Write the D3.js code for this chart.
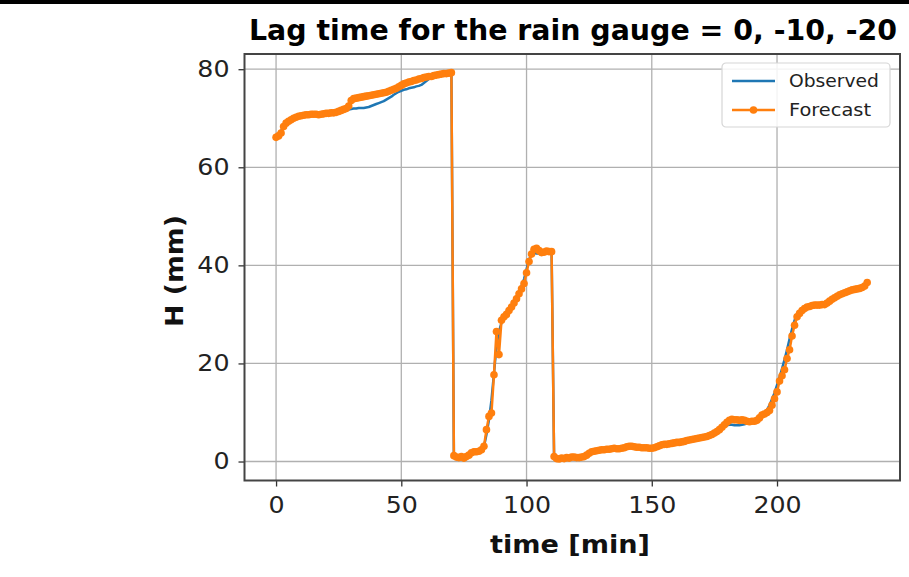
<!DOCTYPE html>
<html>
<head>
<meta charset="utf-8">
<script src="https://cdn.jsdelivr.net/npm/d3@7"></script>
<style>
  html, body { margin: 0; padding: 0; background: #fff; }
  svg { display: block; }
  text { font-family: "DejaVu Sans", sans-serif; }
</style>
</head>
<body>
<svg id="chart" width="909" height="577"></svg>
<script>
// Water level H (mm), sampled every minute from t = 0 to t = 236 min
const observed = [
  66.0, 66.5, 67.4, 68.4, 69.0, 69.4, 69.7, 69.9, 70.1, 70.3,
  70.4, 70.5, 70.6, 70.6, 70.7, 70.7, 70.7, 70.7, 70.7, 70.8,
  70.9, 70.9, 71.0, 71.0, 71.1, 71.2, 71.4, 71.5, 71.7, 71.8,
  71.9, 72.0, 72.0, 72.1, 72.1, 72.1, 72.2, 72.3, 72.5, 72.7,
  72.9, 73.1, 73.3, 73.5, 73.8, 74.1, 74.4, 74.8, 75.1, 75.4,
  75.6, 75.8, 75.9, 76.1, 76.2, 76.3, 76.5, 76.6, 76.8, 77.2,
  77.6, 78.0, 78.3, 78.5, 78.7, 78.8, 78.9, 79.0, 79.0, 79.1,
  79.2, 1.0, 0.9, 0.8, 0.9, 0.8, 1.0, 1.3, 1.7, 1.9,
  2.0, 2.1, 2.4, 3.0, 5.5, 8.5, 12.5, 18.0, 23.5, 26.5,
  28.3, 29.3, 30.2, 31.0, 31.8, 32.7, 33.6, 34.7, 35.8, 37.2,
  39.2, 41.2, 42.3, 42.5, 42.4, 42.4, 42.5, 42.6, 42.7, 42.8,
  42.8, 0.9, 0.6, 0.6, 0.7, 0.7, 0.8, 0.8, 0.8, 0.9,
  0.9, 0.9, 1.0, 1.1, 1.4, 1.7, 1.9, 2.1, 2.2, 2.3,
  2.4, 2.4, 2.5, 2.5, 2.6, 2.6, 2.6, 2.7, 2.7, 2.8,
  2.9, 3.0, 3.0, 3.0, 2.9, 2.9, 2.8, 2.8, 2.8, 2.8,
  2.8, 2.9, 3.0, 3.2, 3.3, 3.4, 3.5, 3.6, 3.7, 3.8,
  3.9, 3.9, 4.0, 4.1, 4.2, 4.4, 4.5, 4.6, 4.7, 4.8,
  4.9, 5.0, 5.1, 5.3, 5.5, 5.8, 6.1, 6.5, 6.9, 7.2,
  7.4, 7.5, 7.5, 7.4, 7.4, 7.4, 7.5, 7.6, 7.8, 8.0,
  8.1, 8.2, 8.4, 8.8, 9.3, 9.8, 10.5, 11.5, 12.7, 14.0,
  15.6, 17.2, 18.9, 20.8, 22.8, 25.0, 27.0, 28.8, 29.8, 30.4,
  30.9, 31.2, 31.4, 31.6, 31.7, 31.8, 31.9, 31.9, 32.0, 32.1,
  32.3, 32.6, 33.0, 33.3, 33.6, 33.9, 34.1, 34.3, 34.5, 34.7,
  34.9, 35.0, 35.1, 35.2, 35.4, 35.7, 36.2
];

const forecast = [
  66.1, 66.4, 67.0, 68.3, 69.0, 69.4, 69.7, 70.0, 70.2, 70.4,
  70.5, 70.6, 70.7, 70.7, 70.8, 70.8, 70.8, 70.7, 70.8, 70.9,
  71.0, 71.0, 71.1, 71.1, 71.2, 71.4, 71.6, 71.8, 72.0, 72.5,
  73.6, 74.0, 74.1, 74.2, 74.3, 74.4, 74.5, 74.6, 74.7, 74.8,
  74.9, 75.0, 75.1, 75.2, 75.3, 75.5, 75.7, 75.9, 76.1, 76.4,
  76.7, 77.0, 77.2, 77.4, 77.5, 77.7, 77.8, 78.0, 78.1, 78.3,
  78.4, 78.5, 78.5, 78.7, 78.8, 78.9, 79.0, 79.1, 79.1, 79.2,
  79.3, 1.2, 0.9, 0.8, 1.0, 0.7, 1.0, 1.3, 1.8, 2.0,
  2.0, 2.1, 2.4, 3.1, 6.5, 9.2, 9.9, 17.7, 26.5, 21.8,
  28.8, 29.5, 30.0, 30.8, 31.5, 32.3, 33.2, 34.2, 35.2, 36.3,
  38.5, 40.8, 42.3, 43.3, 43.5, 43.0, 42.6, 42.7, 42.9, 42.8,
  42.8, 1.0, 0.6, 0.5, 0.7, 0.6, 0.8, 0.7, 0.9, 0.9,
  0.8, 0.8, 0.9, 1.0, 1.3, 1.7, 2.0, 2.1, 2.2, 2.3,
  2.4, 2.4, 2.5, 2.5, 2.6, 2.7, 2.6, 2.6, 2.7, 2.8,
  3.0, 3.1, 3.1, 3.0, 2.9, 2.9, 2.8, 2.8, 2.8, 2.7,
  2.7, 2.8, 3.0, 3.2, 3.4, 3.5, 3.5, 3.6, 3.7, 3.8,
  3.9, 3.9, 4.0, 4.1, 4.3, 4.4, 4.5, 4.6, 4.7, 4.8,
  4.9, 5.0, 5.1, 5.3, 5.5, 5.8, 6.1, 6.5, 7.0, 7.5,
  8.0, 8.4, 8.6, 8.5, 8.5, 8.4, 8.5, 8.4, 8.2, 8.1,
  8.2, 8.2, 8.4, 8.9, 9.5, 9.7, 10.0, 10.4, 11.5, 12.8,
  14.2, 16.4, 17.5, 18.7, 21.0, 22.8, 25.6, 27.8, 29.5, 30.2,
  30.8, 31.2, 31.5, 31.6, 31.8, 31.9, 31.9, 31.9, 32.0, 32.0,
  32.3, 32.7, 33.1, 33.4, 33.7, 34.0, 34.2, 34.4, 34.6, 34.8,
  35.0, 35.1, 35.2, 35.3, 35.5, 35.8, 36.5
];

const timeMin = observed.map((_, i) => i);   // one reading per minute
const xTicks = [0, 50, 100, 150, 200];
const yTicks = [0, 20, 40, 60, 80];
const seriesNames = ["Observed", "Forecast"];
const titleText = "Lag time for the rain gauge = 0, -10, -20";

const svg = d3.select("#chart");
const W = 909, H = 577;
const m = { left: 244.5, right: 900, top: 54, bottom: 480.5 };
const blue = "#1f77b4", orange = "#ff7f0e";

// widen a text element horizontally by factor k
function widen(sel, k) {
  sel.each(function () {
    const len = this.getComputedTextLength();
    d3.select(this).attr("textLength", len * k).attr("lengthAdjust", "spacingAndGlyphs");
  });
}

// banner strip along the top edge
svg.append("rect").attr("x", 0).attr("y", 0).attr("width", W).attr("height", 4).attr("fill", "#000");

const x = d3.scaleLinear().domain([-12.6, 249.1]).range([m.left, m.right]);
const y = d3.scaleLinear().domain([-3.87, 83.1]).range([m.bottom, m.top]);

// grid
const grid = svg.append("g").attr("stroke", "#b0b0b0").attr("stroke-width", 1.3);
xTicks.forEach(t => grid.append("line")
  .attr("x1", x(t)).attr("x2", x(t)).attr("y1", m.top).attr("y2", m.bottom));
yTicks.forEach(t => grid.append("line")
  .attr("y1", y(t)).attr("y2", y(t)).attr("x1", m.left).attr("x2", m.right));

// series
const plot = svg.append("g");
const line = d3.line().x((d, i) => x(timeMin[i])).y(d => y(d));
plot.append("path").datum(observed).attr("d", line)
  .attr("fill", "none").attr("stroke", blue).attr("stroke-width", 2.5).attr("stroke-linejoin", "round");
plot.append("path").datum(forecast).attr("d", line)
  .attr("fill", "none").attr("stroke", orange).attr("stroke-width", 2.5).attr("stroke-linejoin", "round");
plot.selectAll("circle.fc").data(forecast).join("circle").attr("class", "fc")
  .attr("cx", (d, i) => x(timeMin[i])).attr("cy", d => y(d)).attr("r", 3.8).attr("fill", orange);

// axes
const xAxis = d3.axisBottom(x).tickValues(xTicks).tickSize(6).tickPadding(10);
const yAxis = d3.axisLeft(y).tickValues(yTicks).tickSize(6).tickPadding(9);
const gx = svg.append("g").attr("transform", `translate(0,${m.bottom})`).call(xAxis);
const gy = svg.append("g").attr("transform", `translate(${m.left},0)`).call(yAxis);
[gx, gy].forEach(g => {
  g.select(".domain").remove();
  g.selectAll(".tick line").attr("stroke", "#333").attr("stroke-width", 1.3);
  g.selectAll(".tick text").attr("fill", "#222").style("font-size", "23px")
    .style("font-family", "'DejaVu Sans', sans-serif");
  widen(g.selectAll(".tick text"), 1.1);
});

// frame
svg.append("rect").attr("x", m.left).attr("y", m.top)
  .attr("width", m.right - m.left).attr("height", m.bottom - m.top)
  .attr("fill", "none").attr("stroke", "#444").attr("stroke-width", 2);

// labels
const title = svg.append("text").attr("x", 573).attr("y", 40)
  .attr("text-anchor", "middle").style("font-size", "27.5px").style("font-weight", "bold")
  .attr("fill", "#000").text(titleText);
title.attr("textLength", 648).attr("lengthAdjust", "spacingAndGlyphs");

svg.append("text").attr("x", 570).attr("y", 553)
  .attr("text-anchor", "middle").style("font-size", "24px").style("font-weight", "bold")
  .attr("fill", "#111").text("time [min]")
  .attr("textLength", 160).attr("lengthAdjust", "spacingAndGlyphs");
svg.append("text").attr("transform", `translate(183,271) rotate(-90)`)
  .attr("text-anchor", "middle").style("font-size", "24px").style("font-weight", "bold")
  .attr("fill", "#111").text("H (mm)")
  .attr("textLength", 112).attr("lengthAdjust", "spacingAndGlyphs");

// legend
const lg = svg.append("g").attr("transform", "translate(722,63)");
lg.append("rect").attr("width", 168).attr("height", 64).attr("rx", 4)
  .attr("fill", "#fff").attr("fill-opacity", 0.85).attr("stroke", "#d6d6d6").attr("stroke-width", 1.2);
const colors = [blue, orange];
const legendWidths = [90, 82];
seriesNames.forEach((name, i) => {
  const row = lg.append("g").attr("transform", `translate(0,${18 + i * 29})`);
  row.append("line").attr("x1", 10).attr("x2", 53).attr("stroke", colors[i]).attr("stroke-width", 2.5);
  if (i === 1) row.append("circle").attr("cx", 31.5).attr("r", 3.8).attr("fill", orange);
  row.append("text").attr("x", 67).attr("y", 6).style("font-size", "17px").attr("fill", "#222").text(name)
    .attr("textLength", legendWidths[i]).attr("lengthAdjust", "spacingAndGlyphs");
});
</script>
</body>
</html>
